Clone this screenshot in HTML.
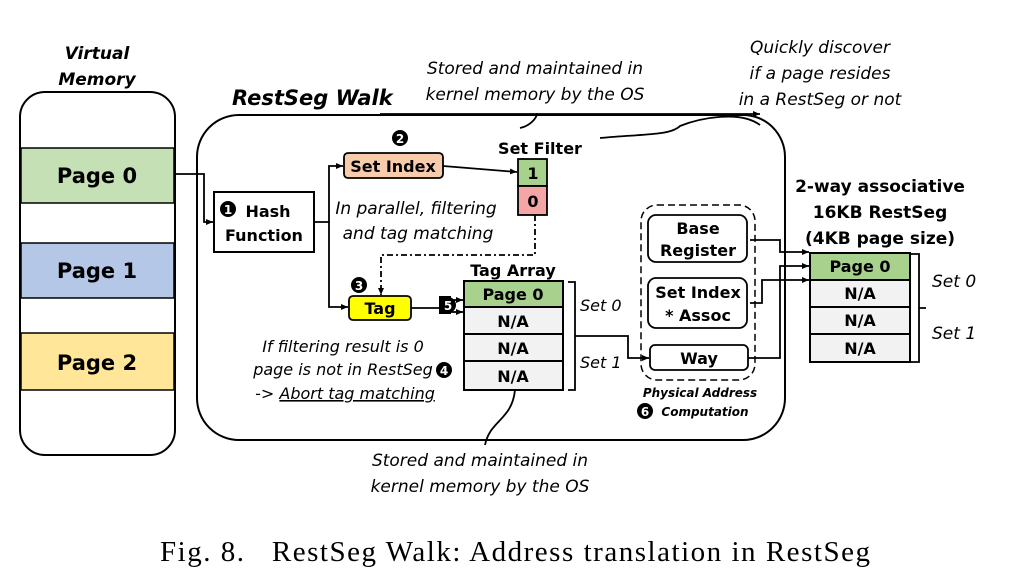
<!DOCTYPE html>
<html><head><meta charset="utf-8"><style>
body{margin:0;background:#fff}
svg{display:block}
text{font-family:"DejaVu Sans","Liberation Sans",sans-serif;fill:#000}
.b{font-weight:bold}
.i{font-style:italic}
</style></head><body>
<svg width="1024" height="585" viewBox="0 0 1024 585" xmlns="http://www.w3.org/2000/svg">
<defs><marker id="a" markerWidth="8" markerHeight="8" refX="7" refY="4" orient="auto" markerUnits="userSpaceOnUse"><path d="M0,1 L7,4 L0,7z" fill="#000"/></marker></defs>
<g stroke="#000" fill="none" stroke-width="2">
<rect x="20" y="92" width="155" height="363" rx="25" ry="25"/>
</g>
<rect x="21" y="148" width="153" height="55" fill="#c5e0b4" stroke="#000" stroke-width="1.5"/>
<rect x="21" y="243" width="153" height="55" fill="#b4c7e7" stroke="#000" stroke-width="1.5"/>
<rect x="21" y="333" width="153" height="57" fill="#ffe699" stroke="#000" stroke-width="1.5"/>
<text x="97" y="59" font-size="17" class="b i" text-anchor="middle">Virtual</text>
<text x="97" y="85" font-size="17" class="b i" text-anchor="middle">Memory</text>
<text x="97" y="183" font-size="21" class="b" text-anchor="middle">Page 0</text>
<text x="97" y="278" font-size="21" class="b" text-anchor="middle">Page 1</text>
<text x="97" y="370" font-size="21" class="b" text-anchor="middle">Page 2</text>
<rect x="197" y="115" width="588" height="325" rx="42" ry="42" fill="none" stroke="#000" stroke-width="2"/>
<text x="232" y="105" font-size="21" class="b i">RestSeg Walk</text>
<g stroke="#000" fill="none" stroke-width="1.8">
<path d="M175,174 H204 V222 H213" marker-end="url(#a)"/>
<path d="M314,222 H329 V166 H343" marker-end="url(#a)"/>
<path d="M329,222 V307 H348" marker-end="url(#a)"/>
<path d="M443,166 L517,172" marker-end="url(#a)"/>
<path d="M535,215 V255 H381 V295" stroke-dasharray="6,3,2,3" marker-end="url(#a)"/>
<path d="M411,308 H440"/>
<path d="M451,300 H463" marker-end="url(#a)"/>
<path d="M451,312 H463" marker-end="url(#a)"/>
<path d="M568,282 H575 V390 H568 M575,336 H600"/>
<path d="M600,336 H628 V358 H649" marker-end="url(#a)"/>
<path d="M515,390 C512,420 490,420 485,445"/>
<path d="M520,128 C530,126 537,118 537,113"/>
<path d="M380,114 H760" marker-end="url(#a)"/>
<path d="M600,138 C640,134 670,136 680,126 C700,118 740,110 760,125"/>
<path d="M910,254 H919 V362 H910 M919,308 H926"/>
<path d="M750,240 H780 V252 H809" marker-end="url(#a)"/>
<path d="M748,358 H780 V266 H809" marker-end="url(#a)"/>
<path d="M750,303 H762 V280 H809" marker-end="url(#a)"/>
</g>
<rect x="214" y="192" width="100" height="60" fill="#fff" stroke="#000" stroke-width="2"/>
<circle cx="228" cy="209" r="8"/><text x="228" y="214" font-size="12" style="fill:#fff" class="b" text-anchor="middle">1</text>
<text x="268" y="217" font-size="16" class="b" text-anchor="middle">Hash</text>
<text x="264" y="241" font-size="16" class="b" text-anchor="middle">Function</text>
<rect x="344" y="153" width="99" height="25" rx="4" fill="#f8cbad" stroke="#000" stroke-width="1.8"/>
<text x="393" y="172" font-size="16" class="b" text-anchor="middle">Set Index</text>
<circle cx="400" cy="138" r="8"/><text x="400" y="143" font-size="12" style="fill:#fff" class="b" text-anchor="middle">2</text>
<text x="540" y="154" font-size="16" class="b" text-anchor="middle">Set Filter</text>
<rect x="518" y="159" width="29" height="27" fill="#a9d18e" stroke="#000" stroke-width="1.8"/>
<rect x="518" y="186" width="29" height="29" fill="#f4a6a6" stroke="#000" stroke-width="1.8"/>
<text x="533" y="179" font-size="16" class="b" text-anchor="middle">1</text>
<text x="533" y="207" font-size="16" class="b" text-anchor="middle">0</text>
<text x="416" y="214" font-size="17" class="i" text-anchor="middle">In parallel, filtering</text>
<text x="418" y="239" font-size="17" class="i" text-anchor="middle">and tag matching</text>
<rect x="349" y="296" width="62" height="24" rx="4" fill="#ffff00" stroke="#000" stroke-width="1.8"/>
<text x="380" y="314" font-size="16" class="b" text-anchor="middle">Tag</text>
<circle cx="359" cy="285" r="8"/><text x="359" y="290" font-size="12" style="fill:#fff" class="b" text-anchor="middle">3</text>
<rect x="439" y="296" width="12" height="18" fill="#000"/>
<circle cx="448" cy="305" r="8"/><text x="448" y="310" font-size="12" style="fill:#fff" class="b" text-anchor="middle">5</text>
<text x="513" y="276" font-size="16" class="b" text-anchor="middle">Tag Array</text>
<rect x="464" y="281" width="99" height="26" fill="#a9d18e" stroke="#000" stroke-width="2"/>
<rect x="464" y="307" width="99" height="27" fill="#f2f2f2" stroke="#000" stroke-width="2"/>
<rect x="464" y="334" width="99" height="27" fill="#f2f2f2" stroke="#000" stroke-width="2"/>
<rect x="464" y="361" width="99" height="29" fill="#f2f2f2" stroke="#000" stroke-width="2"/>
<text x="513" y="300" font-size="16" class="b" text-anchor="middle">Page 0</text>
<text x="513" y="327" font-size="16" class="b" text-anchor="middle">N/A</text>
<text x="513" y="354" font-size="16" class="b" text-anchor="middle">N/A</text>
<text x="513" y="382" font-size="16" class="b" text-anchor="middle">N/A</text>
<text x="580" y="311" font-size="16" class="i">Set 0</text>
<text x="580" y="368" font-size="16" class="i">Set 1</text>
<text x="343" y="352" font-size="16" class="i" text-anchor="middle">If filtering result is 0</text>
<text x="343" y="375" font-size="16" class="i" text-anchor="middle">page is not in RestSeg</text>
<text x="345" y="399" font-size="16" class="i" text-anchor="middle">-&gt; <tspan text-decoration="underline">Abort tag matching</tspan></text>
<circle cx="444" cy="370" r="8"/><text x="444" y="375" font-size="12" style="fill:#fff" class="b" text-anchor="middle">4</text>
<text x="480" y="466" font-size="17" class="i" text-anchor="middle">Stored and maintained in</text>
<text x="480" y="492" font-size="17" class="i" text-anchor="middle">kernel memory by the OS</text>
<text x="535" y="74" font-size="17" class="i" text-anchor="middle">Stored and maintained in</text>
<text x="535" y="100" font-size="17" class="i" text-anchor="middle">kernel memory by the OS</text>
<text x="820" y="53" font-size="17" class="i" text-anchor="middle">Quickly discover</text>
<text x="820" y="79" font-size="17" class="i" text-anchor="middle">if a page resides</text>
<text x="820" y="105" font-size="17" class="i" text-anchor="middle">in a RestSeg or not</text>
<rect x="641" y="205" width="114" height="175" rx="16" fill="none" stroke="#000" stroke-width="1.5" stroke-dasharray="7,4"/>
<rect x="648" y="215" width="99" height="47" rx="8" fill="#fff" stroke="#000" stroke-width="1.8"/>
<text x="698" y="234" font-size="16" class="b" text-anchor="middle">Base</text>
<text x="698" y="256" font-size="16" class="b" text-anchor="middle">Register</text>
<rect x="648" y="278" width="99" height="50" rx="8" fill="#fff" stroke="#000" stroke-width="1.8"/>
<text x="698" y="298" font-size="16" class="b" text-anchor="middle">Set Index</text>
<text x="698" y="321" font-size="16" class="b" text-anchor="middle">* Assoc</text>
<rect x="650" y="345" width="98" height="25" rx="5" fill="#fff" stroke="#000" stroke-width="1.8"/>
<text x="699" y="364" font-size="16" class="b" text-anchor="middle">Way</text>
<text x="700" y="397" font-size="12" class="b i" text-anchor="middle">Physical Address</text>
<circle cx="645" cy="411" r="8"/><text x="645" y="416" font-size="12" style="fill:#fff" class="b" text-anchor="middle">6</text>
<text x="705" y="416" font-size="12" class="b i" text-anchor="middle">Computation</text>
<text x="880" y="192" font-size="17" class="b" text-anchor="middle">2-way associative</text>
<text x="880" y="218" font-size="17" class="b" text-anchor="middle">16KB RestSeg</text>
<text x="880" y="244" font-size="17" class="b" text-anchor="middle">(4KB page size)</text>
<rect x="810" y="253" width="100" height="27" fill="#a9d18e" stroke="#000" stroke-width="2"/>
<rect x="810" y="280" width="100" height="27" fill="#f2f2f2" stroke="#000" stroke-width="2"/>
<rect x="810" y="307" width="100" height="27" fill="#f2f2f2" stroke="#000" stroke-width="2"/>
<rect x="810" y="334" width="100" height="28" fill="#f2f2f2" stroke="#000" stroke-width="2"/>
<text x="860" y="272" font-size="16" class="b" text-anchor="middle">Page 0</text>
<text x="860" y="299" font-size="16" class="b" text-anchor="middle">N/A</text>
<text x="860" y="326" font-size="16" class="b" text-anchor="middle">N/A</text>
<text x="860" y="354" font-size="16" class="b" text-anchor="middle">N/A</text>
<text x="932" y="287" font-size="17" class="i">Set 0</text>
<text x="932" y="339" font-size="17" class="i">Set 1</text>
<text x="160" y="561" font-size="29" textLength="710" lengthAdjust="spacing" style="font-family:'Liberation Serif',serif" xml:space="preserve">Fig. 8.   RestSeg Walk: Address translation in RestSeg</text>
</svg>
</body></html>
